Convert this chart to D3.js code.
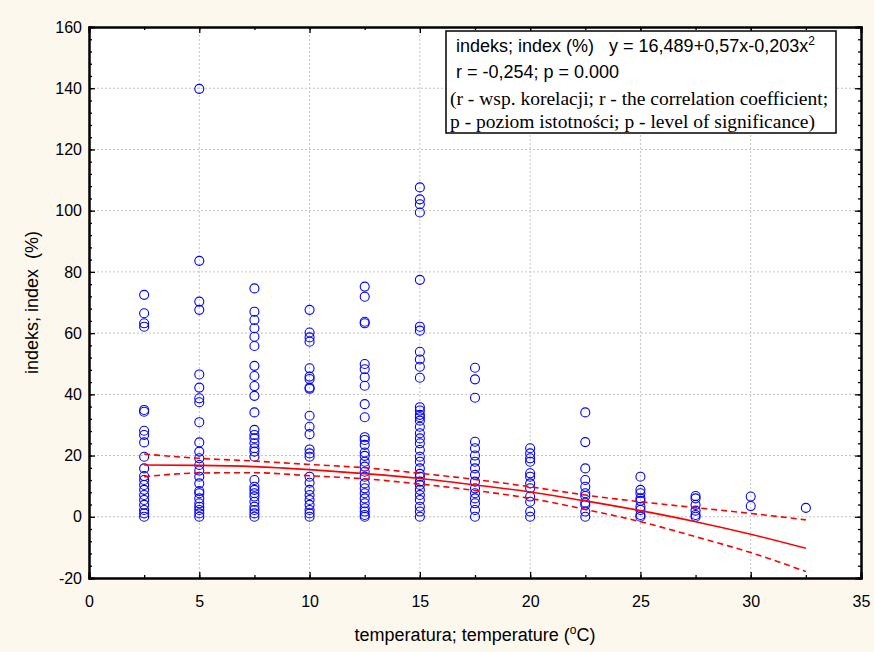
<!DOCTYPE html>
<meta charset="utf-8">
<script src="https://cdn.jsdelivr.net/npm/d3@7"></script>
<style type="text/css">
    body { margin: 0; background: #fdf8ee; }
    .tick text { font-family: "Liberation Sans", Arial, sans-serif; font-size: 16px; fill: #000; }
    .label { font-family: "Liberation Sans", Arial, sans-serif; font-size: 18px; white-space: pre; }
    .note-sans { font-family: "Liberation Sans", Arial, sans-serif; font-size: 18px; white-space: pre; }
    .note-serif { font-family: "Liberation Serif", "Times New Roman", serif; font-size: 19.5px; }
</style>
<body>
<script type="text/javascript">
    // temperature classes (x) and the index values read at each of them
    var temps = [2.5, 5, 7.5, 10, 12.5, 15, 17.5, 20, 22.5, 25, 27.5, 30, 32.5];

    var indexValues = [
        [72.5, 66.5, 63.2, 62.1, 34.9, 34.3, 28.1, 26.7, 24.3, 19.6, 15.8, 13.3, 12, 10.4, 8.8, 7.1, 5.5, 3.9, 2.2, 1.1, 0],
        [139.8, 83.6, 70.3, 67.6, 46.5, 42.2, 38.7, 37.4, 30.9, 24.3, 21.3, 19.1, 16.9, 15.1, 13.1, 10.9, 8.4, 7.7, 6, 4.4, 3.3, 2.2, 1.1, 0],
        [74.6, 67, 64.3, 61.6, 58.8, 55.8, 49.3, 46, 42.7, 39.5, 34.1, 28.4, 26.7, 25.6, 24, 22.4, 21.3, 19.6, 12, 9.8, 8.8, 7.7, 6.6, 4.9, 3.3, 2.2, 1.1, 0],
        [67.6, 60.2, 58.6, 57.2, 48.5, 45.8, 45, 42.2, 41.8, 33, 29.4, 27, 22, 20.7, 19.6, 13.1, 11.1, 8.8, 7.1, 5.5, 3.9, 2.2, 1.1, 0],
        [75.2, 71.9, 63.7, 63.2, 49.9, 48.2, 45.6, 42.8, 36.8, 32.5, 26, 25.1, 23.5, 21, 19.9, 18, 16.4, 14.7, 13.1, 10.9, 9.3, 7.7, 6, 4.4, 2.8, 1.7, 0.6, 0],
        [107.6, 103.7, 102.1, 99.4, 77.4, 62.1, 60.8, 53.9, 51.4, 49, 45.4, 35.8, 34.7, 33.3, 32.5, 31.4, 29.4, 27.3, 25.6, 24, 21.8, 19.6, 18, 15.8, 14, 13.1, 11.5, 10.4, 8.8, 7.1, 5.5, 3.3, 1.7, 0],
        [48.7, 44.9, 38.9, 24.5, 22.4, 20, 18, 15.8, 13.7, 11.5, 9.3, 7.7, 6, 4.4, 2.2, 0],
        [22.4, 20.7, 19.1, 18, 14.2, 13.1, 10.9, 9.3, 6.6, 4.9, 1.7, 0],
        [34.1, 24.4, 15.8, 12, 9.8, 7.7, 6.8, 4.6, 3.9, 1.7, 0],
        [13.1, 8.8, 7.7, 6, 5.2, 3.3, 2.2, 0.6, 0],
        [6.8, 6, 3.9, 2, 0.6, 0],
        [6.6, 3.5],
        [2.9]
    ];

    // fitted curve and its confidence band, read at each temperature class
    var fitValues = [16.9, 16.8, 16.4, 15.4, 14.1, 12.5, 10.4, 8.1, 5.2, 2, -1.6, -5.7, -10.3];
    var upperValues = [20.5, 19.1, 18.2, 17.1, 16, 14.2, 12.2, 9.8, 7.1, 4.9, 3, 1.1, -1];
    var lowerValues = [13.1, 14.3, 14.4, 13.4, 12.4, 10.7, 8.6, 6, 2.4, -1.6, -6.5, -11.7, -17.9];

    var xTicks = [0, 5, 10, 15, 20, 25, 30, 35];
    var yTicks = [-20, 0, 20, 40, 60, 80, 100, 120, 140, 160];

    var width = 874, height = 652;
    var plot = { left: 89, right: 861, top: 27, bottom: 578 };

    var svg = d3.select("body").append("svg")
        .attr("width", width)
        .attr("height", height);

    svg.append("rect")
        .attr("width", width)
        .attr("height", height)
        .style("fill", "#fdf8ee");

    var xScale = d3.scaleLinear().domain([0, 35]).range([plot.left, plot.right]);
    var yScale = d3.scaleLinear().domain([-20, 160]).range([plot.bottom, plot.top]);

    svg.append("rect")
        .attr("x", plot.left)
        .attr("y", plot.top)
        .attr("width", plot.right - plot.left)
        .attr("height", plot.bottom - plot.top)
        .style("fill", "#fff");

    // dotted grid
    svg.append("g").selectAll("line")
        .data(xTicks.slice(1, -1))
        .enter().append("line")
        .attr("x1", xScale).attr("x2", xScale)
        .attr("y1", plot.top).attr("y2", plot.bottom)
        .style("stroke", "#c4c4c4").style("stroke-dasharray", "2,2");
    svg.append("g").selectAll("line")
        .data(yTicks.slice(1, -1))
        .enter().append("line")
        .attr("y1", yScale).attr("y2", yScale)
        .attr("x1", plot.left).attr("x2", plot.right)
        .style("stroke", "#c4c4c4").style("stroke-dasharray", "2,2");

    // minor ticks (inside)
    var xMinor = d3.range(0, 35.01, 2.5), yMinor = d3.range(-20, 160.01, 4);
    svg.append("g").attr("transform", "translate(0," + plot.bottom + ")")
        .call(d3.axisBottom(xScale).tickValues(xMinor).tickSize(-3).tickFormat(""));
    svg.append("g").attr("transform", "translate(0," + plot.top + ")")
        .call(d3.axisTop(xScale).tickValues(xMinor).tickSize(-3).tickFormat(""));
    svg.append("g").attr("transform", "translate(" + plot.left + ",0)")
        .call(d3.axisLeft(yScale).tickValues(yMinor).tickSize(-3).tickFormat(""));
    svg.append("g").attr("transform", "translate(" + plot.right + ",0)")
        .call(d3.axisRight(yScale).tickValues(yMinor).tickSize(-3).tickFormat(""));

    // major ticks, plain hyphen for negatives like the original
    var plain = function (d) { return String(d); };
    svg.append("g").attr("class", "x axis").attr("transform", "translate(0," + plot.bottom + ")")
        .call(d3.axisBottom(xScale).tickValues(xTicks).tickSize(-6).tickPadding(18).tickFormat(plain));
    svg.append("g").attr("transform", "translate(0," + plot.top + ")")
        .call(d3.axisTop(xScale).tickValues(xTicks).tickSize(-6).tickFormat(""));
    svg.append("g").attr("class", "y axis").attr("transform", "translate(" + plot.left + ",0)")
        .call(d3.axisLeft(yScale).tickValues(yTicks).tickSize(-6).tickPadding(7).tickFormat(plain));
    svg.append("g").attr("transform", "translate(" + plot.right + ",0)")
        .call(d3.axisRight(yScale).tickValues(yTicks).tickSize(-6).tickFormat(""));

    svg.selectAll(".domain").style("stroke", "#000").style("stroke-width", 2);
    svg.selectAll(".tick line").style("stroke", "#000").style("stroke-width", 1.3);
    svg.selectAll(".tick text").attr("fill", "#000");

    // points
    var points = [];
    temps.forEach(function (t, i) {
        indexValues[i].forEach(function (v) { points.push({ t: t, v: v }); });
    });

    svg.append("g").selectAll("circle")
        .data(points)
        .enter().append("circle")
        .attr("cx", function (d) { return xScale(d.t); })
        .attr("cy", function (d) { return yScale(d.v); })
        .attr("r", 4.5)
        .style("fill", "none")
        .style("stroke", "#0000ff")
        .style("stroke-width", 1.1);

    // fit + confidence band
    var line = d3.line()
        .x(function (d, i) { return xScale(temps[i]); })
        .y(function (d) { return yScale(d); })
        .curve(d3.curveMonotoneX);

    svg.append("path").attr("d", line(fitValues))
        .style("fill", "none").style("stroke", "#ff0000").style("stroke-width", 1.6);
    [upperValues, lowerValues].forEach(function (band) {
        svg.append("path").attr("d", line(band))
            .style("fill", "none").style("stroke", "#ff0000").style("stroke-width", 1.6)
            .style("stroke-dasharray", "6,4");
    });

    // note box
    var note = svg.append("g");
    note.append("rect")
        .attr("x", 446).attr("y", 31).attr("width", 390).attr("height", 102)
        .style("fill", "#fff").style("stroke", "#000").style("stroke-width", 1.5);

    var l1 = note.append("text").attr("class", "note-sans").attr("x", 456).attr("y", 52);
    l1.append("tspan").text("indeks; index (%)   y = 16,489+0,57x-0,203x");
    l1.append("tspan").attr("dy", -7).style("font-size", "12px").text("2");
    note.append("text").attr("class", "note-sans").attr("x", 456).attr("y", 78)
        .text("r = -0,254; p = 0.000");
    note.append("text").attr("class", "note-serif").attr("x", 450).attr("y", 105)
        .text("(r - wsp. korelacji; r - the correlation coefficient;");
    note.append("text").attr("class", "note-serif").attr("x", 450).attr("y", 128)
        .text("p - poziom istotności; p - level of significance)");

    // axis titles
    var xt = svg.append("text").attr("class", "label")
        .attr("x", (plot.left + plot.right) / 2).attr("y", 641)
        .style("text-anchor", "middle");
    xt.append("tspan").text("temperatura; temperature (");
    xt.append("tspan").attr("dy", -7).style("font-size", "12px").text("o");
    xt.append("tspan").attr("dy", 7).text("C)");

    svg.append("text").attr("class", "label")
        .attr("transform", "translate(38," + (plot.top + plot.bottom) / 2 + ") rotate(-90)")
        .style("text-anchor", "middle")
        .text("indeks; index  (%)");
</script>
</body>
